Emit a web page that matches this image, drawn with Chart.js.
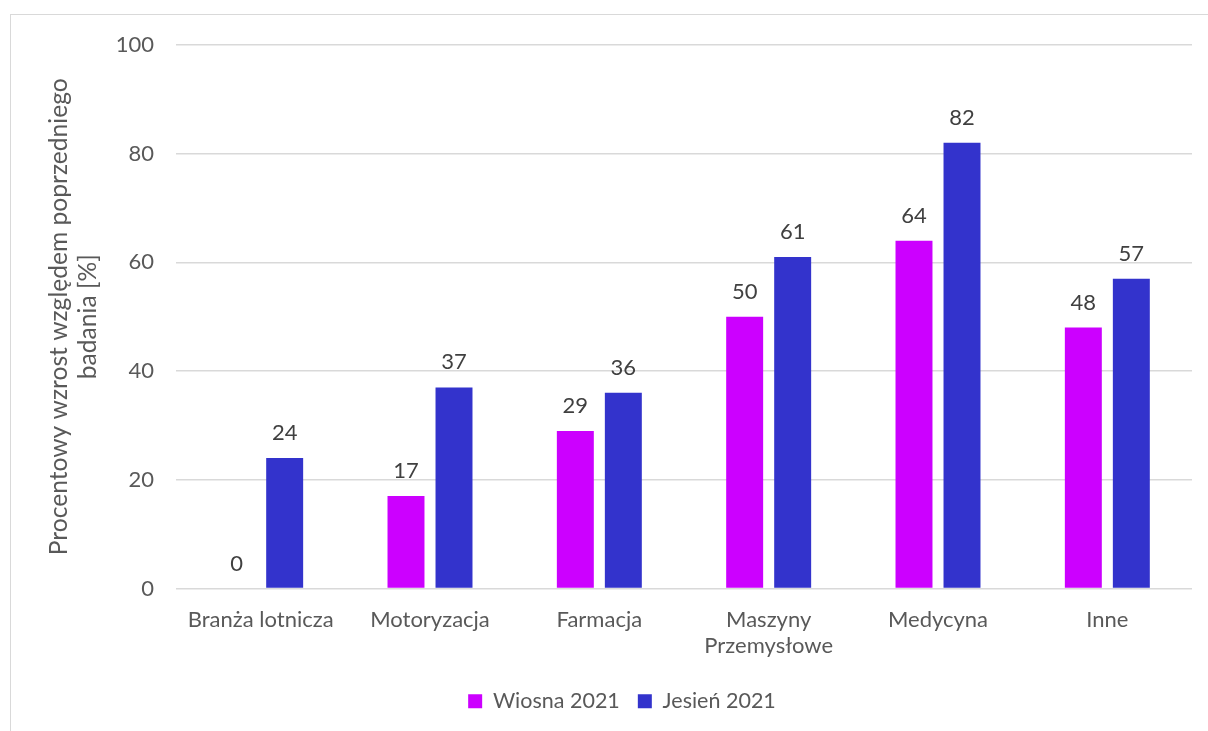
<!DOCTYPE html>
<html>
<head>
<meta charset="utf-8">
<script src="https://cdn.jsdelivr.net/npm/chart.js@4"></script>
<style>
  html, body { margin: 0; padding: 0; background: #ffffff; overflow: hidden; }
  #wrap { position: relative; width: 1208px; height: 731px; }
  #frame { position: absolute; left: 10px; top: 14px; width: 1220px; height: 740px;
           border: 1px solid #d9d9d9; box-sizing: border-box; pointer-events: none; }
  canvas { position: absolute; left: 0; top: 0; }
</style>
</head>
<body>
<div id="wrap">
  <canvas id="c" width="1208" height="731"></canvas>
  <div id="frame"></div>
</div>
<script>
const categories = ["Branża lotnicza", "Motoryzacja", "Farmacja", ["Maszyny", "Przemysłowe"], "Medycyna", "Inne"];
const wiosna2021 = [0, 17, 29, 50, 64, 48];
const jesien2021 = [24, 37, 36, 61, 82, 57];
const seriesNames = ["Wiosna 2021", "Jesień 2021"];
const yTicks = [0, 20, 40, 60, 80, 100];

const FONT = "Lato, 'Open Sans', sans-serif";

// Writes each bar's value above it
const valueLabels = {
  id: 'valueLabels',
  afterDatasetsDraw(chart) {
    const ctx = chart.ctx;
    ctx.save();
    ctx.font = "22px " + FONT;
    ctx.fillStyle = "#404040";
    ctx.textAlign = "center";
    ctx.textBaseline = "middle";
    chart.data.datasets.forEach((ds, i) => {
      chart.getDatasetMeta(i).data.forEach((bar, j) => {
        ctx.fillText(String(ds.data[j]), bar.x, bar.y - 25);
      });
    });
    ctx.restore();
  }
};

// Nudges the legend row slightly to the right of the canvas centre
const legendNudge = {
  id: 'legendNudge',
  afterLayout(chart) {
    const lg = chart.legend;
    if (!lg) return;
    lg.left += 26;
    lg.right += 26;
  }
};

new Chart(document.getElementById('c'), {
  type: 'bar',
  data: {
    labels: categories,
    datasets: [
      { label: seriesNames[0], data: wiosna2021, backgroundColor: '#cc00ff' },
      { label: seriesNames[1], data: jesien2021, backgroundColor: '#3333cc' }
    ]
  },
  options: {
    responsive: false,
    animation: false,
    devicePixelRatio: 1,
    layout: { padding: { top: 45, right: 16, left: 0, bottom: 9 } },
    datasets: { bar: { categoryPercentage: 0.567, barPercentage: 0.77 } },
    scales: {
      x: {
        grid: { display: false },
        border: { display: false },
        ticks: { color: '#595959', font: { family: FONT, size: 22 }, padding: 10, maxRotation: 0, autoSkip: false },
        afterFit(scale) { scale.height = 84; }
      },
      y: {
        min: 0, max: 100,
        afterBuildTicks(scale) { scale.ticks = yTicks.map(v => ({ value: v })); },
        grid: { color: '#d9d9d9', lineWidth: 1.5, drawTicks: false },
        border: { display: false },
        ticks: { color: '#595959', font: { family: FONT, size: 22 }, padding: 22 },
        title: {
          display: true,
          text: ["Procentowy wzrost względem poprzedniego", "badania [%]"],
          color: '#595959',
          font: { family: FONT, size: 24.6 },
          padding: { top: 44, bottom: 0 }
        },
        afterFit(scale) { scale.width = 176; }
      }
    },
    plugins: {
      legend: {
        position: 'bottom',
        labels: { color: '#595959', font: { family: FONT, size: 21.5 }, boxWidth: 14, boxHeight: 14, padding: 18 }
      },
      tooltip: { enabled: false }
    }
  },
  plugins: [valueLabels, legendNudge]
});
</script>
</body>
</html>
